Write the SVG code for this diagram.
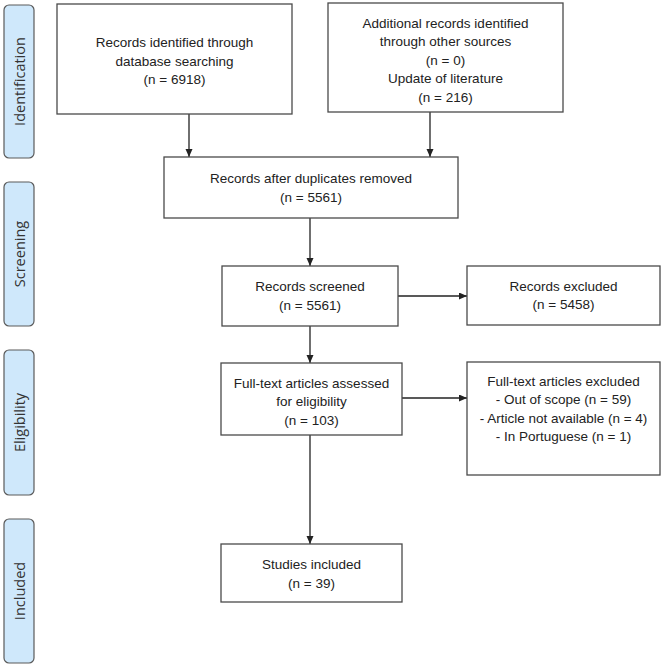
<svg xmlns="http://www.w3.org/2000/svg" width="665" height="667" viewBox="0 0 665 667">
<style>
.box{fill:#fff;stroke:#4a4a4a;stroke-width:1.3}
.side{fill:#cfe8fb;stroke:#5a5a5a;stroke-width:1.2}
.t{font-family:"Liberation Sans",Arial,sans-serif;font-size:13.5px;fill:#222;text-anchor:middle}
.st{font-family:"Open Sans","Liberation Sans",sans-serif;font-size:14.5px;fill:#333;text-anchor:middle;dominant-baseline:central}
.c{stroke:#222;stroke-width:1.3;fill:none;marker-end:url(#ah)}
</style>
<defs>
<marker id="ah" markerUnits="userSpaceOnUse" markerWidth="9" markerHeight="8" refX="8" refY="3.5" orient="auto">
<path d="M0,0 L8,3.5 L0,7 z" fill="#222"/>
</marker>
</defs>
<rect width="665" height="667" fill="#fff"/>
<g id="phase-identification"><rect class="side" x="4" y="5" width="30" height="153" rx="5"/><text class="st" transform="translate(19,81.5) rotate(-90)">Identification</text></g>
<g id="phase-screening"><rect class="side" x="4" y="182" width="30" height="144" rx="5"/><text class="st" transform="translate(19,254) rotate(-90)">Screening</text></g>
<g id="phase-eligibility"><rect class="side" x="4" y="350" width="30" height="145" rx="5"/><text class="st" transform="translate(19,422.5) rotate(-90)">Eligibility</text></g>
<g id="phase-included"><rect class="side" x="4" y="519" width="30" height="144" rx="5"/><text class="st" transform="translate(19,591) rotate(-90)">Included</text></g>

<g id="connectors">
<line class="c" x1="189" y1="114" x2="189" y2="157"/>
<line class="c" x1="430" y1="112" x2="430" y2="157"/>
<line class="c" x1="310" y1="218" x2="310" y2="266"/>
<line class="c" x1="398" y1="296" x2="467" y2="296"/>
<line class="c" x1="310" y1="326" x2="310" y2="363"/>
<line class="c" x1="402" y1="398" x2="467" y2="398"/>
<line class="c" x1="310" y1="435" x2="310" y2="544"/>
</g>

<g id="n-database"><rect class="box" x="57" y="4" width="235" height="110"/>
<text class="t" x="174.5" y="47">Records identified through</text>
<text class="t" x="174.5" y="65.5">database searching</text>
<text class="t" x="174.5" y="84">(n = 6918)</text></g>

<g id="n-other"><rect class="box" x="328" y="3" width="235" height="109"/>
<text class="t" x="445.5" y="27.5">Additional records identified</text>
<text class="t" x="445.5" y="46">through other sources</text>
<text class="t" x="445.5" y="64.5">(n = 0)</text>
<text class="t" x="445.5" y="83">Update of literature</text>
<text class="t" x="445.5" y="101.5">(n = 216)</text></g>

<g id="n-dedup"><rect class="box" x="164" y="157" width="294" height="61"/>
<text class="t" x="311" y="182.5">Records after duplicates removed</text>
<text class="t" x="311" y="201.5">(n = 5561)</text></g>

<g id="n-screened"><rect class="box" x="222" y="266" width="176" height="60"/>
<text class="t" x="310" y="290.5">Records screened</text>
<text class="t" x="310" y="309.5">(n = 5561)</text></g>

<g id="n-excluded"><rect class="box" x="467" y="266" width="193" height="59"/>
<text class="t" x="563.5" y="290.5">Records excluded</text>
<text class="t" x="563.5" y="309">(n = 5458)</text></g>

<g id="n-fulltext"><rect class="box" x="221" y="363" width="181" height="72"/>
<text class="t" x="311.5" y="387.5">Full-text articles assessed</text>
<text class="t" x="311.5" y="406">for eligibility</text>
<text class="t" x="311.5" y="424.5">(n = 103)</text></g>

<g id="n-ft-excluded"><rect class="box" x="467" y="362" width="193" height="113"/>
<text class="t" x="563.5" y="385.5">Full-text articles excluded</text>
<text class="t" x="563.5" y="404">- Out of scope (n = 59)</text>
<text class="t" x="563.5" y="422.5">- Article not available (n = 4)</text>
<text class="t" x="563.5" y="441">- In Portuguese (n = 1)</text></g>

<g id="n-included"><rect class="box" x="221" y="544" width="181" height="58"/>
<text class="t" x="311.5" y="568.5">Studies included</text>
<text class="t" x="311.5" y="587.5">(n = 39)</text></g>
</svg>
